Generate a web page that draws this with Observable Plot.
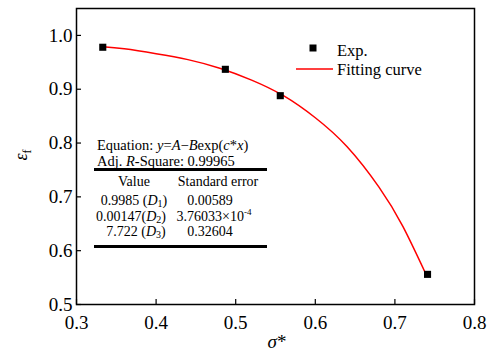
<!DOCTYPE html>
<html>
<head>
<meta charset="utf-8">
<script src="https://cdn.jsdelivr.net/npm/d3@7"></script>
<script src="https://cdn.jsdelivr.net/npm/@observablehq/plot@0.6"></script>
<style>
  html, body { margin: 0; padding: 0; background: #fff; }
  svg text, svg tspan { font-family: "Liberation Serif", "Times New Roman", serif !important; }
</style>
</head>
<body>
<div id="chart"></div>
<script>
// Experimental points (sigma*, epsilon_f)
const expX = [0.333, 0.487, 0.556, 0.741];
const expY = [0.978, 0.937, 0.888, 0.556];

// Fitting curve
const fitX = [0.333, 0.36, 0.40, 0.44, 0.48, 0.52, 0.56, 0.60, 0.64, 0.68, 0.71, 0.74];
const fitY = [0.979, 0.975, 0.966, 0.955, 0.939, 0.917, 0.888, 0.847, 0.793, 0.718, 0.645, 0.553];

const xTicks = [0.3, 0.4, 0.5, 0.6, 0.7, 0.8];
const yTicks = [0.5, 0.6, 0.7, 0.8, 0.9, 1.0];

// Fit parameter table
const tableHeader = ["Value", "Standard error"];
const paramValues = ["0.9985 ", "0.00147", "7.722 "];
const paramNames = ["1", "2", "3"];
const paramErrors = ["0.00589", "3.76033×10", "0.32604"];
const errorExponent = [null, "-4", null];
const adjR2 = "0.99965";

const points = expX.map((x, i) => ({x, y: expY[i]}));
const curve = fitX.map((x, i) => ({x, y: fitY[i]}));

const fontFam = '"Liberation Serif", "Times New Roman", serif';

const plot = Plot.plot({
  width: 496,
  height: 355,
  marginLeft: 76,
  marginRight: 22,
  marginTop: 8,
  marginBottom: 51,
  style: {fontFamily: fontFam, background: "white", color: "black"},
  x: {domain: [0.3, 0.8]},
  y: {domain: [0.5, 1.05]},
  marks: [
    Plot.axisX({ticks: xTicks, tickSize: -5, tickPadding: 16, tickFormat: d3.format(".1f"), fontSize: 19, label: null, stroke: "black", strokeWidth: 1.2}),
    Plot.axisY({ticks: yTicks, tickSize: -5, tickPadding: 9, tickFormat: d3.format(".1f"), fontSize: 19, label: null, stroke: "black", strokeWidth: 1.2}),
    Plot.line(curve, {x: "x", y: "y", stroke: "#ff0000", strokeWidth: 1.5, curve: "natural"}),
    Plot.dot(points, {x: "x", y: "y", symbol: "square", fill: "black", r: 4}),
    Plot.frame({stroke: "black", strokeWidth: 1.5})
  ]
});

document.getElementById("chart").appendChild(plot);

const svg = d3.select(plot);
const g = svg.append("g").attr("fill", "black").attr("text-anchor", "start").attr("font-family", fontFam);

// Axis titles
const yl = g.append("text")
  .attr("transform", "translate(27,155) rotate(-90)")
  .attr("text-anchor", "middle")
  .attr("font-size", 18);
yl.append("tspan").attr("font-style", "italic").text("ε");
yl.append("tspan").attr("font-size", 12).attr("dy", 4).text("f");

const xl = g.append("text")
  .attr("x", 277).attr("y", 348)
  .attr("text-anchor", "middle")
  .attr("font-size", 19);
xl.append("tspan").attr("font-style", "italic").text("σ");
xl.append("tspan").text("*");

// Legend
g.append("rect").attr("x", 309.5).attr("y", 44.5).attr("width", 7).attr("height", 7).attr("fill", "black");
g.append("text").attr("x", 337).attr("y", 56).attr("font-size", 16.5).text("Exp.");
g.append("line").attr("x1", 296).attr("x2", 333).attr("y1", 69).attr("y2", 69).attr("stroke", "#ff0000").attr("stroke-width", 1.5);
g.append("text").attr("x", 337).attr("y", 75).attr("font-size", 16.5).text("Fitting curve");

// Table
const fs = 14;
const eq = g.append("text").attr("x", 97).attr("y", 150).attr("font-size", 14.5);
eq.append("tspan").text("Equation: ");
eq.append("tspan").attr("font-style", "italic").text("y");
eq.append("tspan").text("=");
eq.append("tspan").attr("font-style", "italic").text("A");
eq.append("tspan").text("−");
eq.append("tspan").attr("font-style", "italic").text("B");
eq.append("tspan").text("exp(");
eq.append("tspan").attr("font-style", "italic").text("c");
eq.append("tspan").text("*");
eq.append("tspan").attr("font-style", "italic").text("x");
eq.append("tspan").text(")");

const adj = g.append("text").attr("x", 97).attr("y", 166).attr("font-size", 14.5);
adj.append("tspan").text("Adj. ");
adj.append("tspan").attr("font-style", "italic").text("R");
adj.append("tspan").text("-Square: " + adjR2);

g.append("line").attr("x1", 94).attr("x2", 267).attr("y1", 169.5).attr("y2", 169.5).attr("stroke", "black").attr("stroke-width", 3);
g.append("line").attr("x1", 94).attr("x2", 267).attr("y1", 246.5).attr("y2", 246.5).attr("stroke", "black").attr("stroke-width", 3);

g.append("text").attr("x", 134).attr("y", 186).attr("text-anchor", "middle").attr("font-size", fs).text(tableHeader[0]);
g.append("text").attr("x", 218).attr("y", 186).attr("text-anchor", "middle").attr("font-size", fs).text(tableHeader[1]);

const rowY = [205, 220.5, 235.5];
const valX = [134, 96, 136];
const valAnchor = ["middle", "start", "middle"];
const errX = [210, 176.5, 210];
const errAnchor = ["middle", "start", "middle"];
paramValues.forEach((v, i) => {
  const t = g.append("text").attr("x", valX[i]).attr("y", rowY[i]).attr("text-anchor", valAnchor[i]).attr("font-size", fs);
  t.append("tspan").text(v + "(");
  t.append("tspan").attr("font-style", "italic").text("D");
  t.append("tspan").attr("font-size", 10).attr("dy", 2).text(paramNames[i]);
  t.append("tspan").attr("dy", -2).text(")");
  const e = g.append("text").attr("x", errX[i]).attr("y", rowY[i]).attr("text-anchor", errAnchor[i]).attr("font-size", fs);
  e.append("tspan").text(paramErrors[i]);
  if (errorExponent[i]) e.append("tspan").attr("font-size", 9).attr("dy", -6).text(errorExponent[i]);
});
</script>
</body>
</html>
